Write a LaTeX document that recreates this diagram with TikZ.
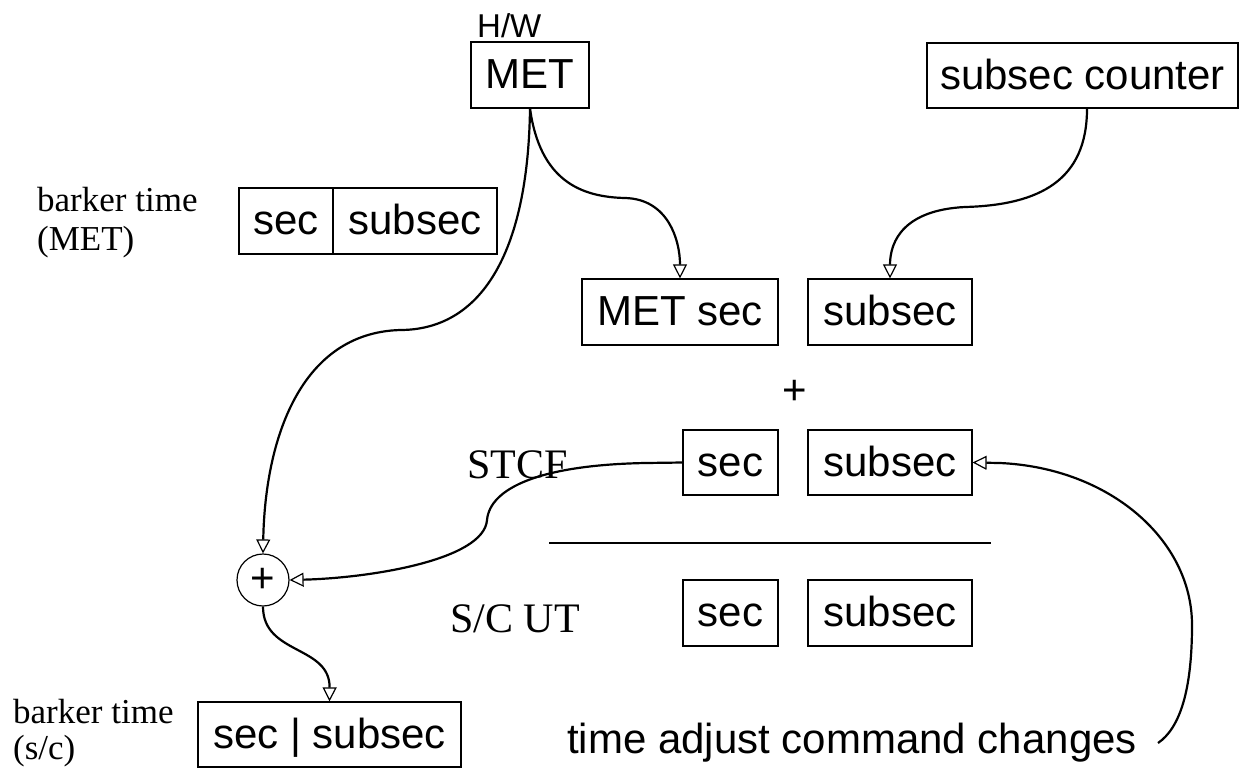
\documentclass[tikz,border=0pt]{standalone}
\usepackage{fontspec}
\setmainfont{Liberation Serif}
\setsansfont{Liberation Sans}
\usetikzlibrary{arrows.meta}

\begin{document}
\begin{tikzpicture}[x=1pt,y=-1pt,
  sanstext/.style={font=\sffamily\fontsize{42}{48}\selectfont},
  smallsans/.style={font=\sffamily\fontsize{33}{38}\selectfont, inner sep=0, anchor=base west},
  seriftext/.style={font=\rmfamily\fontsize{42}{48}\selectfont, inner sep=0, anchor=base west},
  caption/.style={font=\rmfamily\fontsize{35}{40}\selectfont, inner sep=0, anchor=base west},
  plain/.style={sanstext, inner sep=0, anchor=base west},
  box/.style={draw, line width=1.2pt, sanstext, inner sep=0,
    text height=27pt, text depth=0pt},
  flow/.style={line width=2.2pt,
    -{Triangle[open, length=14pt, width=14pt, line width=1.2pt]}}
]
\useasboundingbox (0,0) rectangle (1244,772);

% hardware MET register and subsecond counter
\node[smallsans] (hw) at (477,37) {H/W};
\node[box, minimum width=118, minimum height=66] (met) at (530,75) {MET};
\node[box, minimum width=311, minimum height=65] (counter) at (1082.5,75.5) {subsec counter};

% barker time (MET)
\node[caption] (bt1a) at (37,211) {barker time};
\node[caption] (bt1b) at (37,250) {(MET)};
\node[box, minimum width=94, minimum height=66] (tsec) at (286,221) {sec};
\node[box, minimum width=164, minimum height=66] (tsub) at (415,221) {subsec};

% MET sec + subsec
\node[box, minimum width=196, minimum height=66] (metsec) at (680,312) {MET sec};
\node[box, minimum width=164, minimum height=66] (sub1) at (890,312) {subsec};

\node[sanstext, inner sep=0] (plus) at (795,392) {+};

% STCF row
\node[seriftext] (stcf) at (467,478) {STCF};
\node[box, minimum width=95, minimum height=65] (stsec) at (730.5,462.5) {sec};
\node[box, minimum width=164, minimum height=65] (stsub) at (890,462.5) {subsec};

\draw[line width=1.5pt] (549,543) -- (991,543);

% S/C UT row
\node[seriftext] (scut) at (450,632) {S/C UT};
\node[box, minimum width=95, minimum height=66] (utsec) at (730.5,613) {sec};
\node[box, minimum width=164, minimum height=66] (utsub) at (890,613) {subsec};

% summing junction
\node[circle, draw, line width=1.2pt, minimum size=52, inner sep=0, sanstext] (sum) at (263,580) {+};

% barker time (s/c)
\node[caption] (bt2a) at (13,723) {barker time};
\node[caption] (bt2b) at (13,759) {(s/c)};
\node[box, minimum width=263, minimum height=65] (bot) at (329.5,734.5) {sec | subsec};

% command note
\node[plain] (adj) at (567,753) {time adjust command changes};
\coordinate (adjend) at (1158,743);

% connectors
\draw[flow] (met.south) .. controls (528,255) and (480,330) .. (400,330)
  .. controls (300,333) and (265,440) .. (sum.north);
\draw[flow] (met.south) .. controls (540,180) and (580,197) .. (625,198)
  .. controls (668,199) and (680,240) .. (metsec.north);
\draw[flow] ([xshift=4.5pt]counter.south) .. controls (1087,180) and (1040,205) .. (965,207)
  .. controls (905,210) and (890,240) .. (sub1.north);
\draw[flow] (stsec.west) -- (645,463) .. controls (540,465) and (490,488) .. (487,520)
  .. controls (484,560) and (370,578) .. (sum.east);
\draw[flow] (sum.south) .. controls (263,655) and (330,645) .. (bot.north);
\draw[flow] (adjend) .. controls (1180,728) and (1192,690) .. (1192,625)
  .. controls (1192,540) and (1110,468) .. (1000,463) -- (stsub.east);
\end{tikzpicture}
\end{document}
